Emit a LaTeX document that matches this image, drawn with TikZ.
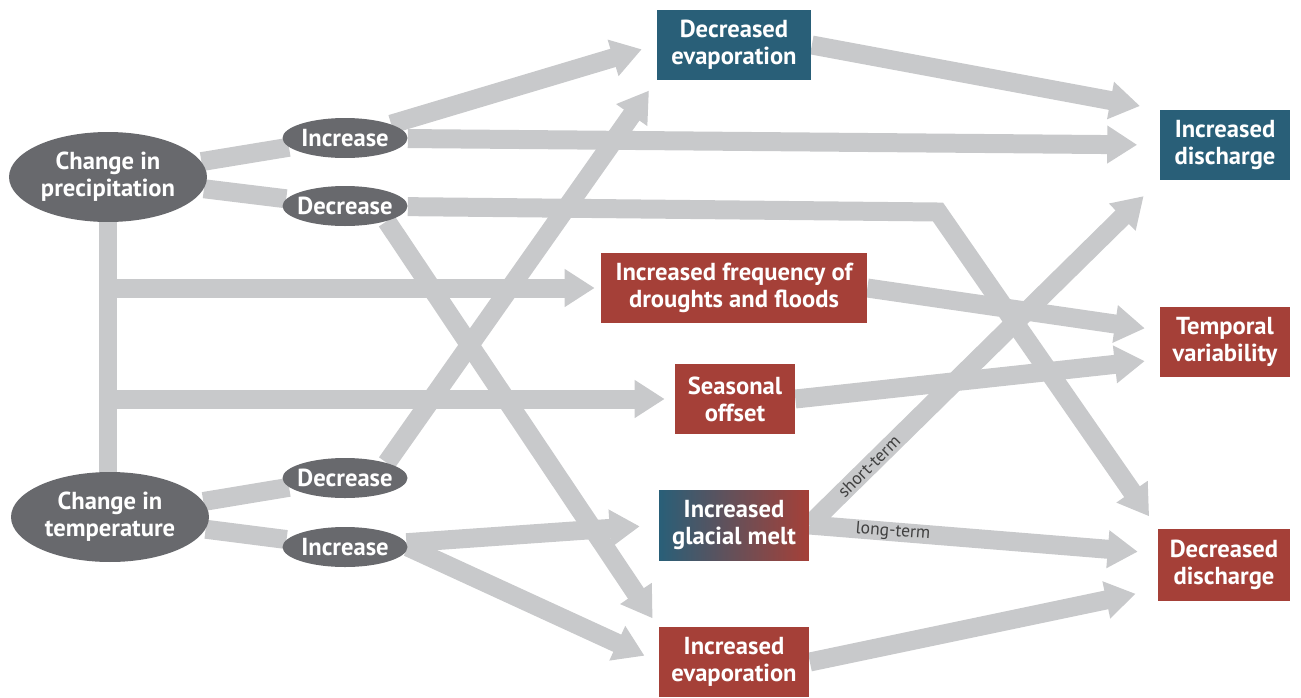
\documentclass[tikz,border=0pt]{standalone}
\usepackage{fontspec}
\setmainfont{PT Sans}
\usetikzlibrary{shapes.geometric}
\usetikzlibrary{arrows.meta}
\usetikzlibrary{backgrounds}
\definecolor{riverblue}{RGB}{41,95,120}
\definecolor{brickred}{RGB}{165,64,56}
\definecolor{slate}{RGB}{104,105,109}
\definecolor{pipe}{RGB}{200,201,203}
\tikzset{x=0.02cm, y=-0.02cm,     % One unit is one pixel of the original
    every node/.style={           % Sets the text of every box
        font=\bfseries\fontsize{14}{15.5}\selectfont,
        text=white,
        align=center},
    driver/.style={               % Big grey ellipses on the left
        ellipse, fill=slate,
        minimum width=3.96cm, minimum height=1.8cm, inner sep=0pt},
    sign/.style={                 % Small increase / decrease ellipses
        ellipse, fill=slate,
        minimum width=2.5cm, minimum height=0.8cm,
        inner xsep=-2pt, inner ysep=0pt},
    effect/.style={               % Rectangular outcome boxes
        rectangle, minimum height=1.4cm, inner sep=0pt},
    wet/.style={effect, fill=riverblue},
    dry/.style={effect, fill=brickred},
    link/.style={                 % Thick grey band, no head
        draw=pipe, line width=0.38cm},
    flow/.style={                 % Thick grey band with a big head
        link,
        -{Triangle[length=0.6cm,width=0.72cm]},
        shorten >=#1},
    flow/.default=0.3cm,
    tag/.style={                  % Small text lying on a band
        font=\fontsize{10}{12}\selectfont,
        text=black!75}}

\begin{document}
\begin{tikzpicture}
    \useasboundingbox (0,0) rectangle (1301,697);

    % drivers
    \node[driver] (prec) at (108,177) {Change in\\precipitation};
    \node[driver] (temp) at (110,517) {Change in\\temperature};
    \node[sign] (pinc) at (345,138) {Increase};
    \node[sign] (pdec) at (345,206) {Decrease};
    \node[sign] (tdec) at (345,478) {Decrease};
    \node[sign] (tinc) at (345,547) {Increase};

    % middle column
    \node[wet, minimum width=3.1cm] (devap) at (734,45) {Decreased\\evaporation};
    \node[dry, minimum width=5.32cm] (freq) at (734,288) {Increased frequency of\\droughts and floods};
    \node[dry, minimum width=2.4cm] (soff) at (735,399) {Seasonal\\offset};
    \node[effect, minimum width=3cm, left color=riverblue, right color=brickred] (melt) at (734,525) {Increased\\glacial melt};
    \node[dry, minimum width=3.02cm] (ievap) at (734,662) {Increased\\evaporation};

    % right column
    \node[wet, minimum width=2.6cm] (idis) at (1225,145) {Increased\\discharge};
    \node[dry, minimum width=2.6cm] (tvar) at (1225,342) {Temporal\\variability};
    \node[dry, minimum width=2.64cm, minimum height=1.44cm] (ddis) at (1224,565) {Decreased\\discharge};

    \coordinate (kink) at (938,212);

    \begin{pgfonlayer}{background}
        \draw[link] (prec) -- (pinc);
        \draw[link] (prec) -- (pdec);
        \draw[link] (prec) -- (prec |- temp);
        \draw[flow=0.12cm] (prec |- freq) -- (freq);
        \draw[flow=0.2cm] (prec |- soff) -- (soff);
        \draw[link] (temp) -- (tdec);
        \draw[link] (temp) -- (tinc);

        \draw[flow] (pinc) -- (devap.west);
        \draw[flow=0.45cm] (pinc) -- (idis.west);
        \draw[flow=0.3cm] (pdec) -- (kink) -- (ddis.north west);
        \draw[flow=0.2cm] (pdec.-20) -- (ievap.north west);
        \draw[flow=0.25cm] (tdec.20) -- (devap.south west);
        \draw[flow=0.38cm] (tinc) -- (melt.west);
        \draw[flow] (tinc.east) -- (ievap.west);

        \draw[flow=0.4cm] (devap.east) -- (idis.north west);
        \draw[flow] (freq.east) -- (tvar.170);
        \draw[flow] (soff.east) -- (tvar.195);
        \draw[flow=0.45cm] (melt.east) -- node[tag, sloped, pos=0.17] {short-term} (idis.south west);
        \draw[flow=0.4cm] (melt.east) -- node[tag, sloped, pos=0.24] {long-term} (ddis.170);
        \draw[flow=0.45cm] (ievap.east) -- (ddis.200);
    \end{pgfonlayer}
\end{tikzpicture}
\end{document}
